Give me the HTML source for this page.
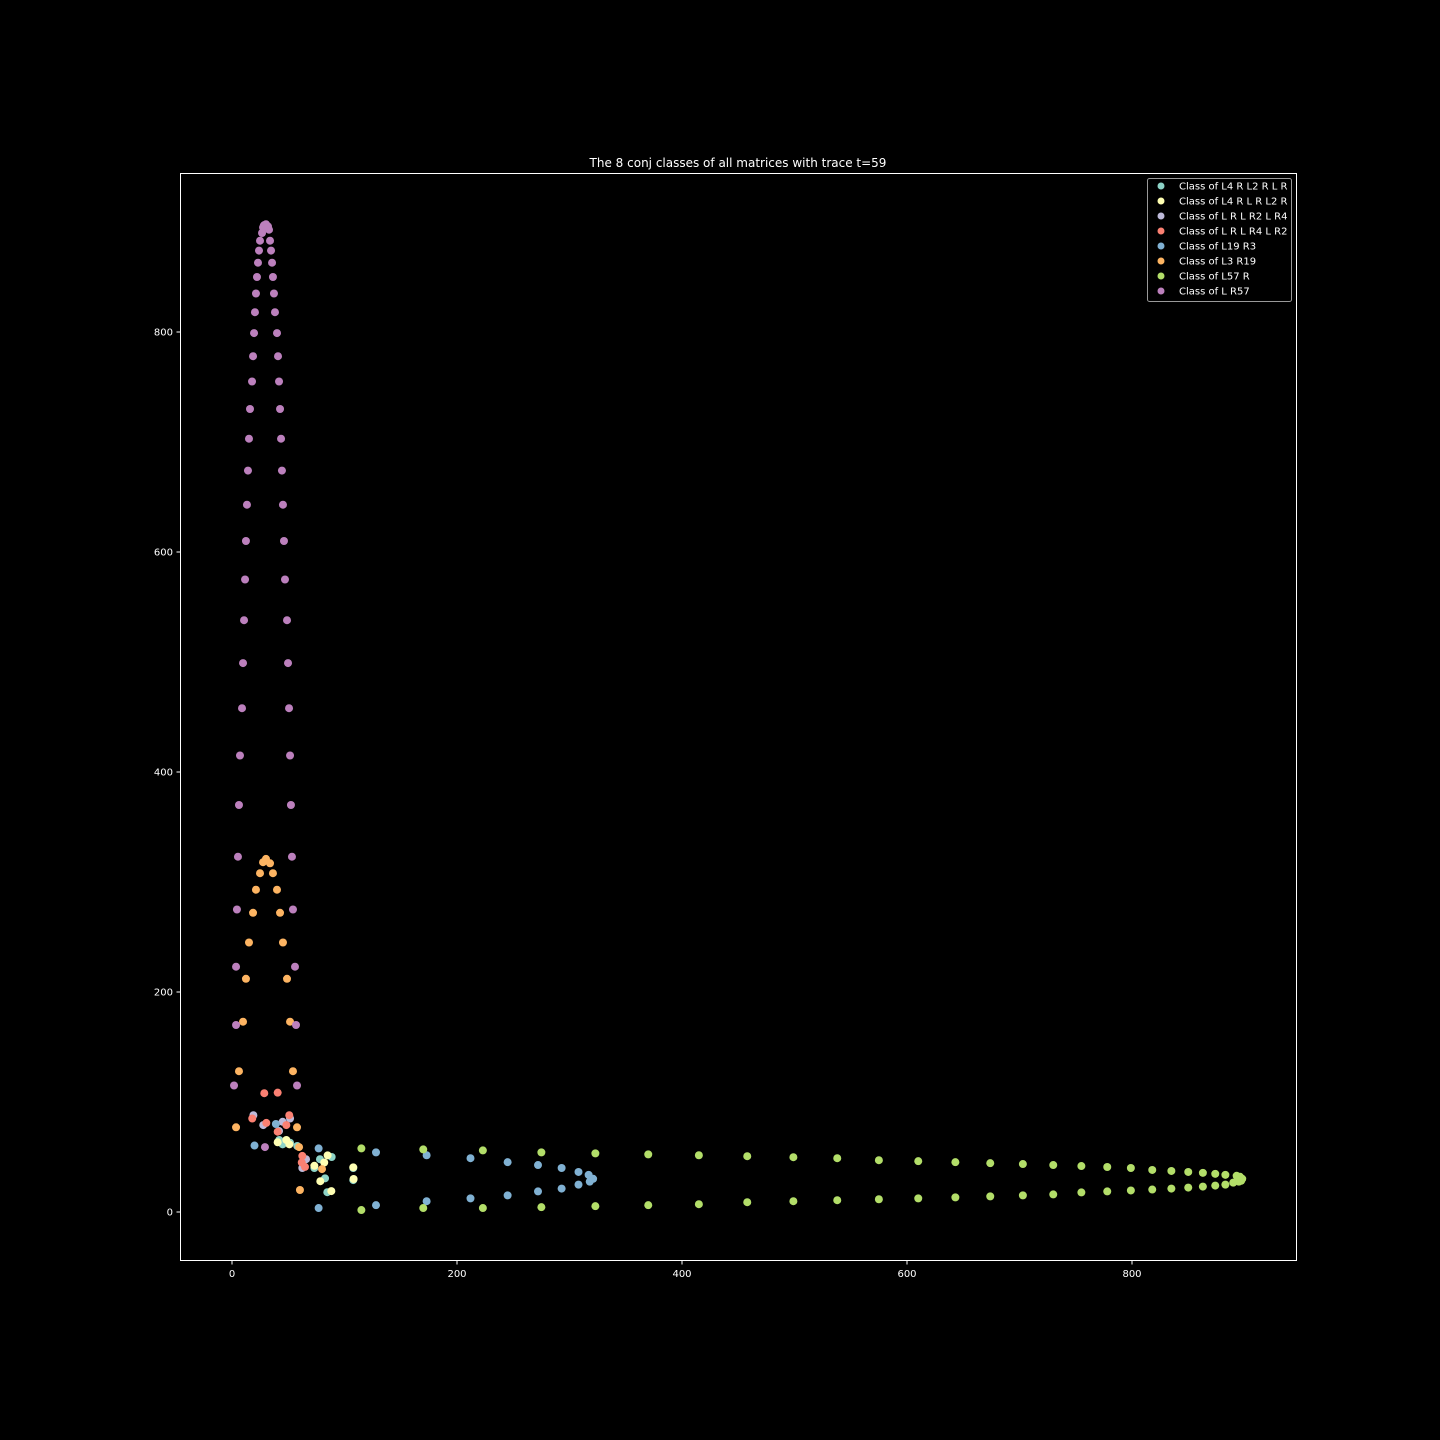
<!DOCTYPE html>
<html><head><meta charset="utf-8">
<style>
html,body{margin:0;padding:0;background:#000;}
svg{display:block;font-family:"DejaVu Sans","Liberation Sans",sans-serif;}
</style></head>
<body>
<svg id="chart" width="1440" height="1440" viewBox="0 0 1440 1440" xmlns="http://www.w3.org/2000/svg">
<rect x="0" y="0" width="1440" height="1440" fill="#000"/>
<text x="738" y="167" fill="#fff" font-size="12" text-anchor="middle">The 8 conj classes of all matrices with trace t=59</text>
<g id="plot"></g>
<rect x="180.5" y="173.5" width="1116" height="1087" fill="none" stroke="#fff" stroke-width="1"/>
<g id="xticks"></g>
<g id="yticks"></g>
<g id="legend"></g>
</svg>
<script>
const xTicks = [0, 200, 400, 600, 800];
const yTicks = [0, 200, 400, 600, 800];
const classNames = ["Class of L4 R L2 R L R","Class of L4 R L R L2 R","Class of L R L R2 L R4","Class of L R L R4 L R2","Class of L19 R3","Class of L3 R19","Class of L57 R","Class of L R57"];
const classColors = ["#8dd3c7","#ffffb3","#bebada","#fb8072","#80b1d3","#fdb462","#b3de69","#bc80bd"];

const tealX = [42,45,51.6,58,78.2,88.6,82.7,84.7,107.8,107.8,73.2];
const tealY = [65.5,61.5,63,60,48,50,30.6,18,29,40,40];
const yellowX = [40.6,48.3,51,85,82,73.2,78.5,88.3,108.1,107.8];
const yellowY = [63.4,65.5,61.5,51.5,45,42,28,19,30,40.6];
const lavX = [19,27.8,45,51.6,41.8,65.8,62.5];
const lavY = [88,79,82,85,73.6,48,40];
const redX = [28.7,40.6,18,30.5,50.9,48.3,40.6,62.5,62,64.9];
const redY = [108,108.5,85,81,88,79,73,51,45,41];
const blueX = [77,128,173,212,245,272,293,308,318,321,317,308,293,272,245,212,173,128,77,20,39];
const blueY = [3.6,6.2,9.8,12.4,15.1,18.7,21.3,24.9,27.6,30.2,33.8,36.4,40,42.7,45.3,48.9,51.6,54.2,57.8,60.4,80];
const orangeX = [3.6,6.2,9.8,12.4,15.1,18.7,21.3,24.9,27.6,30.2,33.8,36.4,40,42.7,45.3,48.9,51.6,54.2,57.8,60.4,80,59.6];
const orangeY = [77,128,173,212,245,272,293,308,318,321,317,308,293,272,245,212,173,128,77,20,39,59];
const purpleX = [1.8,3.6,3.6,4.4,5.3,6.2,7.1,8.9,9.8,10.7,11.6,12.4,13.3,14.2,15.1,16,17.8,18.7,19.6,20.4,21.3,22.2,23.1,24,24.9,26.7,27.6,28.4,30.2,32,32.9,33.8,34.7,35.6,36.4,37.3,38.2,40,40.9,41.8,42.7,43.6,44.4,45.3,46.2,47.1,48.9,49.8,50.7,51.6,52.4,53.3,54.2,56,56.9,57.8,29.3];
const purpleY = [115,170,223,275,323,370,415,458,499,538,575,610,643,674,703,730,755,778,799,818,835,850,863,874,883,890,895,897,898,896,893,883,874,863,850,835,818,799,778,755,730,703,674,643,610,575,538,499,458,415,370,323,275,223,170,115,59];
const greenX = [115,170,223,275,323,370,415,458,499,538,575,610,643,674,703,730,755,778,799,818,835,850,863,874,883,890,895,897,898,896,893,883,874,863,850,835,818,799,778,755,730,703,674,643,610,575,538,499,458,415,370,323,275,223,170,115];
const greenY = [1.8,3.6,3.6,4.4,5.3,6.2,7.1,8.9,9.8,10.7,11.6,12.4,13.3,14.2,15.1,16,17.8,18.7,19.6,20.4,21.3,22.2,23.1,24,24.9,26.7,27.6,28.4,30.2,32,32.9,33.8,34.7,35.6,36.4,37.3,38.2,40,40.9,41.8,42.7,43.6,44.4,45.3,46.2,47.1,48.9,49.8,50.7,51.6,52.4,53.3,54.2,56,56.9,57.8];

const seriesX = [tealX, yellowX, lavX, redX, blueX, orangeX, greenX, purpleX];
const seriesY = [tealY, yellowY, lavY, redY, blueY, orangeY, greenY, purpleY];

const NS = "http://www.w3.org/2000/svg";
function xs(v){ return 232 + v * 1.125; }
function ys(v){ return 1212 - v * 1.1; }
function mk(tag, attrs, parent){ const e = document.createElementNS(NS, tag); for (const k in attrs) e.setAttribute(k, attrs[k]); parent.appendChild(e); return e; }

const plot = document.getElementById('plot');
for (let s = 0; s < seriesX.length; s++) {
  const g = mk('g', {}, plot);
  
  
  for (let i = 0; i < seriesX[s].length; i++) {
    const c = mk('circle', {cx: xs(seriesX[s][i]), cy: ys(seriesY[s][i]), r: 4, fill: classColors[s]}, g);
    
    
  }
}

const xg = document.getElementById('xticks');
xTicks.forEach(t => {
  const x = xs(t);
  const l = mk('line', {x1: x, x2: x, y1: 1260.5, y2: 1264.5, stroke: '#fff', 'stroke-width': 1}, xg);
  
  
  const tx = mk('text', {x: x, y: 1277, fill: '#fff', 'font-size': 10, 'text-anchor': 'middle'}, xg);
  
  
  tx.textContent = t;
});
const yg = document.getElementById('yticks');
yTicks.forEach(t => {
  const y = ys(t);
  const l = mk('line', {x1: 176.5, x2: 180.5, y1: y, y2: y, stroke: '#fff', 'stroke-width': 1}, yg);
  
  
  const tx = mk('text', {x: 173, y: y + 3.5, fill: '#fff', 'font-size': 10, 'text-anchor': 'end'}, yg);
  
  
  tx.textContent = t;
});

const lg = document.getElementById('legend');
const box = mk('rect', {x: 1147.5, y: 178.5, width: 144, height: 123, rx: 2, fill: '#000', stroke: '#999', 'stroke-width': 1}, lg);


classNames.forEach((n, i) => {
  const y = 186 + i * 15;
  const e = mk('g', {}, lg);
  
  
  mk('circle', {cx: 1161, cy: y, r: 3.5, fill: classColors[i]}, e);
  const t = mk('text', {x: 1179, y: y + 3.5, fill: '#fff', 'font-size': 10}, e);
  t.textContent = n;
});
</script>
</body></html>
